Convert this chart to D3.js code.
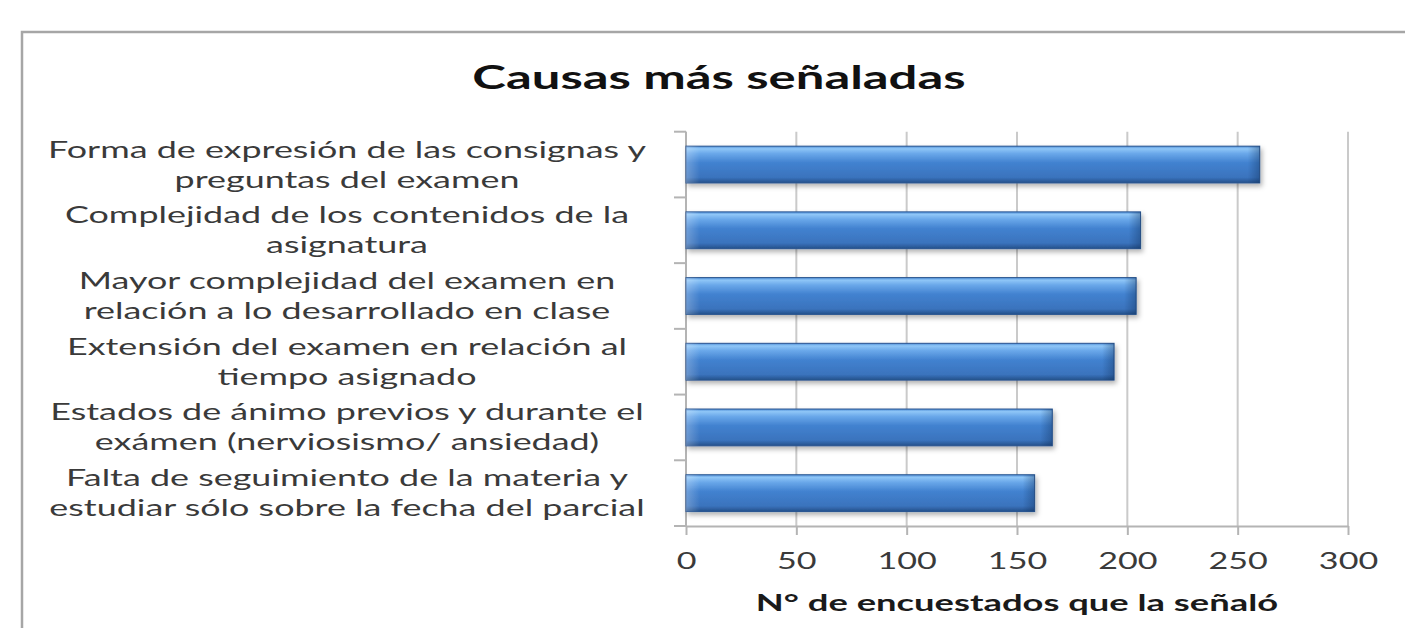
<!DOCTYPE html>
<html>
<head>
<meta charset="utf-8">
<script src="https://cdn.jsdelivr.net/npm/d3@7"></script>
<style>
  body { margin: 0; background: #fff; }
  text { font-family: Lato, "Open Sans", sans-serif; }
</style>
</head>
<body>
<svg id="chart"></svg>
<script>
// data
var causas = [
    ["Forma de expresión  de las consignas y", "preguntas del examen"],
    ["Complejidad de los contenidos de la", "asignatura"],
    ["Mayor complejidad del examen en", "relación a lo desarrollado en clase"],
    ["Extensión del examen en relación al", "tiempo asignado"],
    ["Estados de ánimo previos y durante el", "exámen (nerviosismo/ ansiedad)"],
    ["Falta de seguimiento de la materia y", "estudiar sólo sobre la fecha del parcial"]
]
var encuestados = [260, 206, 204, 194, 166, 158]
var xTicks = [0, 50, 100, 150, 200, 250, 300]
var titulo = "Causas más señaladas"
var tituloEjeX = "N° de encuestados que la señaló"

var dims = {
    width: 1405,
    height: 628,
    plot: { left: 686, right: 1348, top: 131.7, bottom: 526 }
}
var sx = 1.56  // the picture is stretched sideways

var svg = d3.select("#chart")
    .attr("width", dims.width)
    .attr("height", dims.height)

// stretch text horizontally like the reference
function stretch(sel, f) {
    sel.each(function() {
        var w = this.getComputedTextLength()
        d3.select(this).attr("textLength", w * f).attr("lengthAdjust", "spacingAndGlyphs")
    })
}

var defs = svg.append("defs")
var grad = defs.append("linearGradient").attr("id", "barGrad")
    .attr("x1", 0).attr("y1", 0).attr("x2", 0).attr("y2", 1)
grad.selectAll("stop")
    .data([[0, "#4f8fd8"], [0.07, "#8fc6f7"], [0.2, "#6aa8ea"], [0.45, "#4282d0"], [0.85, "#3a73bd"], [1, "#24508a"]])
    .enter().append("stop")
    .attr("offset", d => d[0])
    .attr("stop-color", d => d[1])
var endGrad = defs.append("linearGradient").attr("id", "endGrad")
    .attr("x1", 0).attr("y1", 0).attr("x2", 1).attr("y2", 0)
endGrad.append("stop").attr("offset", 0).attr("stop-color", "#0a2850").attr("stop-opacity", 0)
endGrad.append("stop").attr("offset", 1).attr("stop-color", "#0a2850").attr("stop-opacity", 0.35)
var startGrad = defs.append("linearGradient").attr("id", "startGrad")
    .attr("x1", 0).attr("y1", 0).attr("x2", 1).attr("y2", 0)
startGrad.append("stop").attr("offset", 0).attr("stop-color", "#ffffff").attr("stop-opacity", 0.25)
startGrad.append("stop").attr("offset", 1).attr("stop-color", "#ffffff").attr("stop-opacity", 0)
defs.append("filter").attr("id", "shadow")
    .attr("x", "-5%").attr("y", "-30%").attr("width", "110%").attr("height", "180%")
    .append("feDropShadow")
    .attr("dx", 2).attr("dy", 3).attr("stdDeviation", 2.5)
    .attr("flood-color", "#000").attr("flood-opacity", 0.3)

// chart border
svg.append("rect")
    .attr("x", 22).attr("y", 32)
    .attr("width", 1500).attr("height", 700)
    .attr("fill", "#fff")
    .attr("stroke", "#a6a6a6")
    .attr("stroke-width", 2.5)

var keys = causas.map(c => c.join(" "))
var xScale = d3.scaleLinear()
    .domain([0, 300])
    .range([dims.plot.left, dims.plot.right])
var yScale = d3.scaleBand()
    .domain(keys)
    .range([dims.plot.top, dims.plot.bottom])
    .padding(0)

// vertical gridlines
svg.append("g")
    .selectAll("line")
    .data(xTicks)
    .enter()
    .append("line")
    .attr("x1", d => xScale(d))
    .attr("x2", d => xScale(d))
    .attr("y1", dims.plot.top)
    .attr("y2", dims.plot.bottom)
    .attr("stroke", "#cacaca")
    .attr("stroke-width", 2)

// x axis
var xAxis = svg.append("g")
    .attr("transform", `translate(0, ${dims.plot.bottom})`)
    .call(d3.axisBottom(xScale).tickValues(xTicks).tickSize(9).tickSizeOuter(0))
xAxis.select(".domain").attr("stroke", "#b4b4b4").attr("stroke-width", 2)
xAxis.selectAll(".tick line").attr("stroke", "#b4b4b4").attr("stroke-width", 2)
xAxis.selectAll(".tick text")
    .attr("y", 35)
    .attr("dy", "0.35em")
    .attr("fill", "#3a3a3a")
    .attr("font-size", 24)
    .attr("font-family", "Lato, sans-serif")
    .call(stretch, 1.42)

// y axis with ticks on the category boundaries
var yAxis = svg.append("g")
yAxis.append("line")
    .attr("x1", dims.plot.left).attr("x2", dims.plot.left)
    .attr("y1", dims.plot.top).attr("y2", dims.plot.bottom)
    .attr("stroke", "#b4b4b4").attr("stroke-width", 2)
yAxis.selectAll(".ytick")
    .data(keys.map(k => yScale(k)).concat([dims.plot.bottom]))
    .enter()
    .append("line")
    .attr("class", "ytick")
    .attr("x1", dims.plot.left - 12).attr("x2", dims.plot.left)
    .attr("y1", d => d).attr("y2", d => d)
    .attr("stroke", "#b4b4b4").attr("stroke-width", 2)

// bars
var barH = yScale.bandwidth() * 0.56
var barOff = (yScale.bandwidth() - barH) / 2
var bars = svg.append("g")
    .selectAll("g")
    .data(encuestados)
    .enter()
    .append("g")
bars.append("rect")
    .attr("x", xScale(0))
    .attr("y", (d, i) => yScale(keys[i]) + barOff)
    .attr("width", d => xScale(d) - xScale(0))
    .attr("height", barH)
    .attr("fill", "url(#barGrad)")
    .attr("stroke", "#2a5590")
    .attr("stroke-width", 1)
    .attr("filter", "url(#shadow)")
bars.append("rect")
    .attr("x", d => xScale(d) - 12)
    .attr("y", (d, i) => yScale(keys[i]) + barOff)
    .attr("width", 12)
    .attr("height", barH)
    .attr("fill", "url(#endGrad)")
bars.append("rect")
    .attr("x", xScale(0))
    .attr("y", (d, i) => yScale(keys[i]) + barOff)
    .attr("width", 14)
    .attr("height", barH)
    .attr("fill", "url(#startGrad)")

// category labels, two centred lines each
var labels = svg.append("g")
    .selectAll("text")
    .data(causas)
    .enter()
    .append("text")
    .attr("text-anchor", "middle")
    .attr("font-size", 23)
    .attr("fill", "#3a3a3a")
labels.selectAll("tspan")
    .data((d, i) => d.map((line, j) => ({ line: line, j: j, i: i })))
    .enter()
    .append("tspan")
    .attr("x", 347)
    .attr("y", d => yScale(keys[d.i]) + yScale.bandwidth() / 2 + (d.j === 0 ? -15 : 15))
    .attr("dy", "0.35em")
    .text(d => d.line)
    .call(stretch, sx)

// title
svg.append("text")
    .attr("x", 719)
    .attr("y", 89)
    .attr("text-anchor", "middle")
    .attr("font-size", 33)
    .attr("font-weight", "bold")
    .attr("fill", "#111")
    .text(titulo)
    .call(stretch, 1.54)

// x axis title
svg.append("text")
    .attr("x", (dims.plot.left + dims.plot.right) / 2)
    .attr("y", 611)
    .attr("text-anchor", "middle")
    .attr("font-size", 23)
    .attr("font-weight", "bold")
    .attr("fill", "#1a1a1a")
    .text(tituloEjeX)
    .call(stretch, 1.58)
</script>
</body>
</html>
